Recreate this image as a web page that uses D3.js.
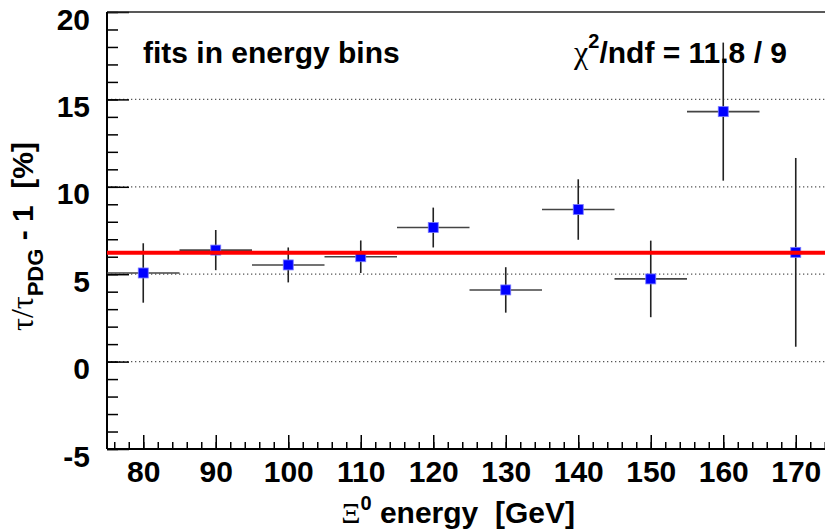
<!DOCTYPE html>
<html>
<head>
<meta charset="utf-8">
<script src="https://cdn.jsdelivr.net/npm/d3@7"></script>
<style>
  body { margin: 0; background: #fff; }
  svg { display: block; font-family: "Liberation Sans", Arial, Helvetica, sans-serif; font-weight: bold; }
  text { white-space: pre; }
  .greek { font-family: "Liberation Serif", "DejaVu Serif", serif; font-weight: normal; }
</style>
</head>
<body>
<svg id="chart" width="825" height="529"></svg>
<script>
// measured lifetime deviation per energy bin
var energy = [80, 90, 100, 110, 120, 130, 140, 150, 160, 170];
var deviation = [5.07, 6.38, 5.53, 6.0, 7.67, 4.1, 8.7, 4.73, 14.3, 6.25];
var devError = [1.7, 1.15, 1.0, 0.93, 1.14, 1.3, 1.73, 2.19, 3.95, 5.4];
var binHalfWidth = [5, 5, 5, 5, 5, 5, 5, 5, 5, 5];
var fitValue = 6.23;

var xTicks = [80, 90, 100, 110, 120, 130, 140, 150, 160, 170];
var yTicks = [-5, 0, 5, 10, 15, 20];
var gridValues = [0, 5, 10, 15];

var svg = d3.select("#chart");

var padL = 107, padT = 12, padR = 832, padB = 449;
var fontSize = "30px";
var plainNum = function(d) { return String(d); }; // keep ascii hyphen for -5

var x = d3.scaleLinear().domain([75, 175]).range([padL, padR]);
var y = d3.scaleLinear().domain([-5, 20]).range([padB, padT]);

var points = energy.map(function(e, i) {
  return { e: e, v: deviation[i], err: devError[i], hw: binHalfWidth[i] };
});

// dotted grid lines
svg.append("g")
  .selectAll("line")
  .data(gridValues)
  .enter()
  .append("line")
  .attr("x1", padL).attr("x2", padR)
  .attr("y1", function(d) { return y(d); })
  .attr("y2", function(d) { return y(d); })
  .attr("stroke", "#555")
  .attr("stroke-width", 1.3)
  .attr("stroke-dasharray", "1.3,2.7");

// minor ticks, inward like ROOT
var yMinor = d3.range(-5, 20.01, 1);
var xMinor = d3.range(76, 175, 2);

svg.append("g")
  .attr("transform", "translate(" + padL + ",0)")
  .call(d3.axisLeft(y).tickValues(yMinor).tickSize(-11).tickFormat(""))
  .call(function(g) { g.select(".domain").remove(); })
  .selectAll("line").attr("stroke", "#000").attr("stroke-width", 1.5);

svg.append("g")
  .attr("transform", "translate(0," + padB + ")")
  .call(d3.axisBottom(x).tickValues(xMinor).tickSize(-7).tickFormat(""))
  .call(function(g) { g.select(".domain").remove(); })
  .selectAll("line").attr("stroke", "#000").attr("stroke-width", 1.5);

// major ticks with labels
var yAxis = svg.append("g")
  .attr("transform", "translate(" + padL + ",0)")
  .call(d3.axisLeft(y).tickValues(yTicks).tickSize(-22).tickPadding(17).tickFormat(plainNum));
yAxis.select(".domain").remove();
yAxis.selectAll("line").attr("stroke", "#000").attr("stroke-width", 1.5);
yAxis.selectAll("text")
  .attr("dy", 17)
  .attr("fill", "#000")
  .style("font-size", fontSize)
  .style("font-family", "'Liberation Sans', Arial, sans-serif")
  .style("font-weight", "bold");

var xAxis = svg.append("g")
  .attr("transform", "translate(0," + padB + ")")
  .call(d3.axisBottom(x).tickValues(xTicks).tickSize(-14).tickPadding(0).tickFormat(plainNum));
xAxis.select(".domain").remove();
xAxis.selectAll("line").attr("stroke", "#000").attr("stroke-width", 1.5);
xAxis.selectAll("text")
  .attr("y", 33)
  .attr("dy", 0)
  .attr("fill", "#000")
  .style("font-size", fontSize)
  .style("font-family", "'Liberation Sans', Arial, sans-serif")
  .style("font-weight", "bold");

// frame
svg.append("line").attr("x1", padL).attr("x2", padR).attr("y1", padT).attr("y2", padT)
  .attr("stroke", "#222").attr("stroke-width", 1.5);
svg.append("line").attr("x1", padL).attr("x2", padL).attr("y1", padT).attr("y2", padB)
  .attr("stroke", "#000").attr("stroke-width", 2);
svg.append("line").attr("x1", padL).attr("x2", padR).attr("y1", padB).attr("y2", padB)
  .attr("stroke", "#000").attr("stroke-width", 2);

// error bars
var bars = svg.append("g");
bars.selectAll(".xerr")
  .data(points)
  .enter()
  .append("line")
  .attr("class", "xerr")
  .attr("x1", function(d) { return x(d.e - d.hw); })
  .attr("x2", function(d) { return x(d.e + d.hw); })
  .attr("y1", function(d) { return y(d.v); })
  .attr("y2", function(d) { return y(d.v); })
  .attr("stroke", "#444")
  .attr("stroke-width", 1.6);

bars.selectAll(".yerr")
  .data(points)
  .enter()
  .append("line")
  .attr("class", "yerr")
  .attr("x1", function(d) { return x(d.e); })
  .attr("x2", function(d) { return x(d.e); })
  .attr("y1", function(d) { return y(d.v - d.err); })
  .attr("y2", function(d) { return y(d.v + d.err); })
  .attr("stroke", "#222")
  .attr("stroke-width", 1.6);

// markers
svg.append("g")
  .selectAll("rect")
  .data(points)
  .enter()
  .append("rect")
  .attr("x", function(d) { return x(d.e) - 5; })
  .attr("y", function(d) { return y(d.v) - 5; })
  .attr("width", 10)
  .attr("height", 10)
  .attr("fill", "#0000ff")
  .attr("stroke", "#7a7aff")
  .attr("stroke-width", 0.8);

// constant fit
svg.append("line")
  .attr("x1", padL).attr("x2", padR)
  .attr("y1", y(fitValue)).attr("y2", y(fitValue))
  .attr("stroke", "#ff0000")
  .attr("stroke-width", 4);

// annotations
svg.append("text")
  .attr("x", 143).attr("y", 63)
  .style("font-size", fontSize)
  .text("fits in energy bins");

var chi = svg.append("text")
  .attr("x", 787).attr("y", 63)
  .attr("text-anchor", "end")
  .style("font-size", fontSize);
chi.append("tspan").attr("class", "greek").style("font-size", "32px").text("χ");
chi.append("tspan").attr("dy", -15).style("font-size", "20px").text("2");
chi.append("tspan").attr("dy", 15).text("/ndf = 11.8 / 9");

// axis titles
var yTitle = svg.append("text")
  .attr("transform", "translate(33,142) rotate(-90)")
  .attr("text-anchor", "end")
  .style("font-size", fontSize);
yTitle.append("tspan").attr("class", "greek").style("font-size", "32px").text("τ/τ");
yTitle.append("tspan").attr("dy", 10).style("font-size", "22px").text("PDG");
yTitle.append("tspan").attr("dy", -10).text(" - 1  [%]");

var xTitle = svg.append("text")
  .attr("x", 575).attr("y", 523)
  .attr("text-anchor", "end")
  .style("font-size", fontSize);
xTitle.append("tspan").attr("class", "greek").style("font-size", "30px").text("Ξ");
xTitle.append("tspan").attr("dy", -13).style("font-size", "20px").text("0");
xTitle.append("tspan").attr("dy", 13).text(" energy  [GeV]");
</script>
</body>
</html>
